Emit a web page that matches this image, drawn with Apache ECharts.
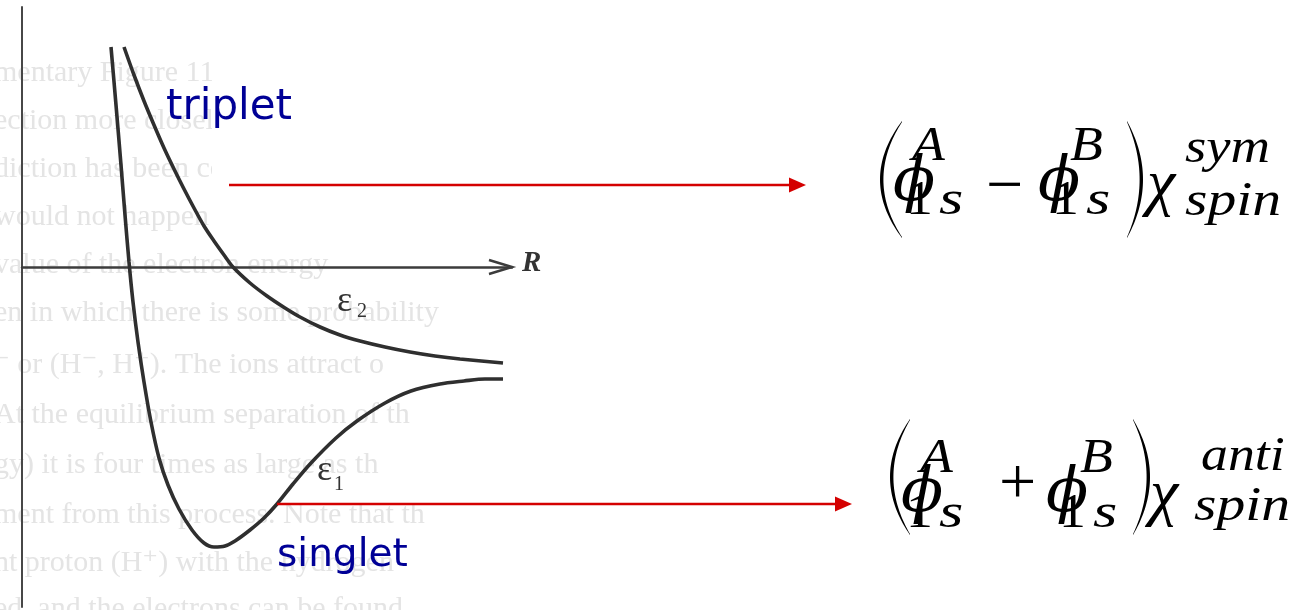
<!DOCTYPE html>
<html>
<head>
<meta charset="utf-8">
<script src="https://cdn.jsdelivr.net/npm/echarts@6/dist/echarts.min.js"></script>
<style>
  html, body { margin: 0; padding: 0; background: #ffffff; }
  #chart { width: 1299px; height: 610px; }
</style>
</head>
<body>
<div id="chart"></div>
<script>
// Internuclear separation R (arbitrary units) for the two H2 energy curves
const singletR = [8.9, 9.4, 9.9, 10.3, 10.7, 11.1, 11.6, 12.2, 12.9, 13.7, 14.6, 15.7, 17.0, 18.2, 19.2, 20.3, 21.3, 22.8, 24.2, 25.5, 27.1, 28.9, 31.4, 33.5, 36.3, 38.9, 41.8, 44.2, 46.3, 48.1];
// Energy of the bonding (singlet) state, epsilon_1
const singletE = [22.0, 16.2, 10.2, 5.2, 0.5, -3.5, -7.5, -11.5, -15.5, -19.1, -21.8, -24.2, -26.3, -27.6, -28.0, -27.9, -27.4, -26.3, -25.1, -23.7, -21.7, -19.6, -17.1, -15.4, -13.6, -12.4, -11.7, -11.4, -11.2, -11.2];

const tripletR = [10.2, 11.2, 12.2, 13.2, 14.2, 15.2, 16.2, 17.2, 18.2, 19.2, 20.2, 21.1, 22.8, 24.5, 26.3, 27.8, 29.8, 31.8, 33.8, 36.3, 38.8, 41.3, 43.8, 48.1];
// Energy of the antibonding (triplet) state, epsilon_2
const tripletE = [22.0, 19.2, 16.6, 14.2, 11.9, 9.8, 7.8, 5.9, 4.1, 2.6, 1.2, 0.0, -1.6, -2.9, -4.1, -5.0, -6.0, -6.8, -7.4, -8.0, -8.5, -8.9, -9.2, -9.6];

// Axis extents
const rRange = [0, 49];
const eRange = [-34, 26];

// Curve and state labels
const curveNames = ['ε1', 'ε2'];
const stateNames = ['triplet', 'singlet'];
const axisName = 'R';

// Faded page text behind the figure
const pageLines = [
  'mentary Figure 11-4 shows the',
  'ection more closely. The',
  'diction has been confirmed',
  'would not happen if  — R',
  'value of the electron energy',
  'en in which there is some probability',
  '⁻ or (H⁻, H⁺). The ions attract o',
  'At the equilibrium separation of th',
  'gy) it is four times as large as th',
  'ment from this process. Note that th',
  'nt proton (H⁺) with the hydrogen',
  'ed, and the electrons can be found'
];
const pageLineY = [73, 121, 169, 217, 265, 313, 365, 415, 465, 515, 563, 609];

const SERIF = '"Liberation Serif", "DejaVu Serif", serif';
const PHI_FONT = '"DejaVu Serif", serif';
const SANS = '"DejaVu Sans", "Noto Sans", sans-serif';

function zip(a, b) { return a.map((v, i) => [v, b[i]]); }

const chart = echarts.init(document.getElementById('chart'), null, { renderer: 'canvas' });

const curveStyle = { color: '#2f2f2f', width: 3.6 };

chart.setOption({
  animation: false,
  backgroundColor: '#ffffff',
  grid: { left: 22, top: 7, width: 490, height: 600, containLabel: false },
  xAxis: {
    type: 'value', min: rRange[0], max: rRange[1],
    axisLine: { show: true, onZero: true, lineStyle: { color: '#3c3c3c', width: 2.5 } },
    axisTick: { show: false }, axisLabel: { show: false }, splitLine: { show: false }
  },
  yAxis: {
    type: 'value', min: eRange[0], max: eRange[1],
    axisLine: { show: true, onZero: false, lineStyle: { color: '#474747', width: 2 } },
    axisTick: { show: false }, axisLabel: { show: false }, splitLine: { show: false }
  },
  series: [
    { type: 'line', name: curveNames[0], data: zip(singletR, singletE), smooth: 0.3,
      showSymbol: false, lineStyle: curveStyle, z: 3 },
    { type: 'line', name: curveNames[1], data: zip(tripletR, tripletE), smooth: 0.3,
      showSymbol: false, lineStyle: curveStyle, z: 3 }
  ]
});

// ---------- annotations ----------
function txt(text, x, baseline, size, extra, z, sx) {
  const style = Object.assign({
    text: text, fontFamily: SERIF, fontSize: size, fill: '#000',
    align: 'left', verticalAlign: 'middle'
  }, extra || {});
  const el = { type: 'text', x: x, y: baseline - 0.34 * size, z: z == null ? 20 : z, style: style };
  if (sx) el.scaleX = sx;
  return el;
}

// tall thin parenthesis as a tapered crescent
function paren(xEnd, xBulge, yTop, yBot, thick) {
  const pts = [];
  const ym = (yTop + yBot) / 2;
  const dir = xBulge < xEnd ? 1 : -1;
  const cOut = 2 * xBulge - xEnd;
  const cIn = 2 * (xBulge + dir * thick) - xEnd;
  const n = 40;
  for (let i = 0; i <= n; i++) {
    const t = i / n;
    const x = (1 - t) * (1 - t) * xEnd + 2 * (1 - t) * t * cOut + t * t * xEnd;
    const y = (1 - t) * (1 - t) * yTop + 2 * (1 - t) * t * ym + t * t * yBot;
    pts.push([x, y]);
  }
  for (let i = n; i >= 0; i--) {
    const t = i / n;
    const x = (1 - t) * (1 - t) * xEnd + 2 * (1 - t) * t * cIn + t * t * xEnd;
    const y = (1 - t) * (1 - t) * (yTop + 1) + 2 * (1 - t) * t * ym + t * t * (yBot - 1);
    pts.push([x, y]);
  }
  return { type: 'polygon', z: 20, shape: { points: pts }, style: { fill: '#000' } };
}

function arrow(x0, x1, y) {
  return [
    { type: 'line', z: 20, shape: { x1: x0, y1: y, x2: x1 - 14, y2: y },
      style: { stroke: '#d40000', lineWidth: 2.6 } },
    { type: 'polygon', z: 20, shape: { points: [[x1 - 17, y - 7.5], [x1, y], [x1 - 17, y + 7.5]] },
      style: { fill: '#d40000' } }
  ];
}

const it = { fontStyle: 'italic' };
const SCRIPT = 48;
const WIDE = 1.12;

function formula(f) {
  const o = [];
  o.push(paren(f.lp[0], f.lp[1], f.top, f.bot, 3.4));
  o.push(txt('ϕ', f.phi1, f.base, 62, { fontStyle: 'italic', fontFamily: PHI_FONT }));
  o.push(txt('A', f.A, f.sup, SCRIPT, it, null, WIDE));
  o.push(txt('1', f.one1, f.sub, SCRIPT, null, null, WIDE));
  o.push(txt('s', f.s1, f.sub, SCRIPT, it, null, 1.3));
  o.push(txt(f.op, f.opX, f.opB, 66));
  o.push(txt('ϕ', f.phi2, f.base, 62, { fontStyle: 'italic', fontFamily: PHI_FONT }));
  o.push(txt('B', f.B, f.sup, SCRIPT, it, null, WIDE));
  o.push(txt('1', f.one2, f.sub, SCRIPT, null, null, WIDE));
  o.push(txt('s', f.s2, f.sub, SCRIPT, it, null, 1.3));
  o.push(paren(f.rp[0], f.rp[1], f.top, f.bot, 3.4));
  o.push(txt('χ', f.chi, f.chiB, 64, it));
  o.push(txt(f.spinSup, f.supX, f.spinSupB, SCRIPT, it, null, f.supW));
  o.push(txt('spin', f.subX, f.spinSubB, SCRIPT, it, null, 1.2));
  return o;
}

const tip = chart.convertToPixel({ gridIndex: 0 }, [rRange[1], 0]);

const bg = pageLines.map((s, i) => ({
  type: 'text', x: -6, y: pageLineY[i], z: -2,
  style: { text: s, fontFamily: SERIF, fontSize: 30, fill: '#e4e4e4', verticalAlign: 'middle', align: 'left' }
}));

const graphics = [].concat(
  bg,
  [
    // clean areas of the page
    { type: 'rect', z: -1, shape: { x: 212, y: 0, width: 348, height: 230 }, style: { fill: '#ffffff' } },
    { type: 'rect', z: -1, shape: { x: 0, y: 0, width: 212, height: 47 }, style: { fill: '#ffffff' } },
    { type: 'rect', z: -1, shape: { x: 560, y: 0, width: 739, height: 610 }, style: { fill: '#ffffff' } },
    // open arrowhead on the R axis
    { type: 'polyline', z: 5, shape: { points: [[tip[0] - 23, tip[1] - 7], [tip[0], tip[1]], [tip[0] - 23, tip[1] + 7]] },
      style: { stroke: '#3c3c3c', lineWidth: 2.5, fill: null } },
    txt(axisName, tip[0] + 10, tip[1] + 6, 29, { fontStyle: 'italic', fontWeight: 'bold', fill: '#333' }, 5),
    // curve labels
    txt('ε', 337, 314, 36, { fill: '#333' }, 5),
    txt('2', 357, 319, 20, { fill: '#333' }, 5),
    txt('ε', 317, 483, 36, { fill: '#333' }, 5),
    txt('1', 334, 492, 20, { fill: '#333' }, 5),
    // state labels
    txt(stateNames[0], 166, 122, 42, { fontFamily: SANS, fill: '#000096' }),
    txt(stateNames[1], 277, 569, 39, { fontFamily: SANS, fill: '#000096' })
  ],
  arrow(229, 806, 185),
  arrow(277, 852, 504),
  formula({
    lp: [902, 880], rp: [1127, 1143], top: 121, bot: 238,
    phi1: 893, A: 912, one1: 906, s1: 939, op: '−', opX: 986, opB: 211,
    phi2: 1038, B: 1070, one2: 1052, s2: 1086, chi: 1147, chiB: 208,
    base: 205, sup: 164, sub: 218,
    spinSup: 'sym', supW: 1.14, supX: 1185, spinSupB: 166, subX: 1185, spinSubB: 219
  }),
  formula({
    lp: [910, 890], rp: [1133, 1150], top: 419, bot: 535,
    phi1: 901, A: 920, one1: 906, s1: 939, op: '+', opX: 999, opB: 508,
    phi2: 1046, B: 1080, one2: 1059, s2: 1093, chi: 1150, chiB: 518,
    base: 516, sup: 476, sub: 531,
    spinSup: 'anti', supW: 1.12, supX: 1201, spinSupB: 474, subX: 1194, spinSubB: 524
  })
);

chart.setOption({ graphic: { elements: graphics } });
</script>
</body>
</html>
